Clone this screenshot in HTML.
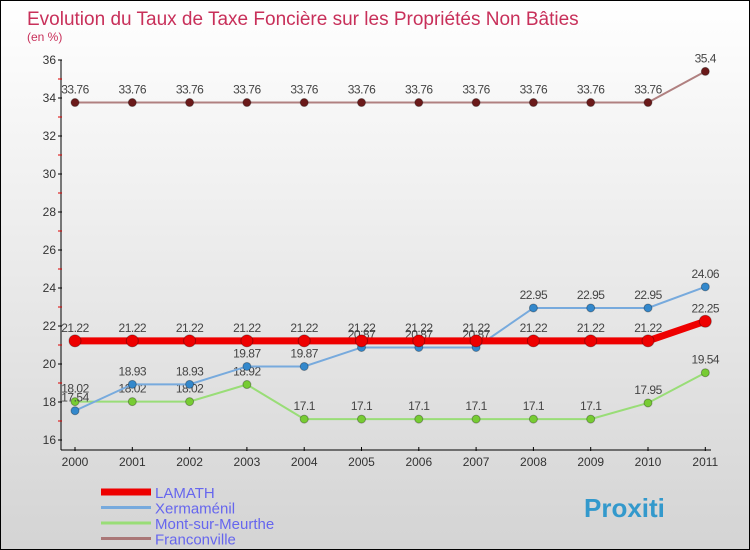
<!DOCTYPE html>
<html><head><meta charset="utf-8"><style>
body{margin:0}
#c{width:748px;height:548px;border:1px solid #000;background:linear-gradient(#fff,#d4d4d4);position:relative;font-family:"Liberation Sans",sans-serif;overflow:hidden}
</style></head><body>
<div id="c">
<svg id="s" width="748" height="548"></svg>
</div>
<script>
const years=["2000","2001","2002","2003","2004","2005","2006","2007","2008","2009","2010","2011"];
const lamath=[21.22,21.22,21.22,21.22,21.22,21.22,21.22,21.22,21.22,21.22,21.22,22.25];
const xerm=[17.54,18.93,18.93,19.87,19.87,20.87,20.87,20.87,22.95,22.95,22.95,24.06];
const mont=[18.02,18.02,18.02,18.92,17.1,17.1,17.1,17.1,17.1,17.1,17.95,19.54];
const franc=[33.76,33.76,33.76,33.76,33.76,33.76,33.76,33.76,33.76,33.76,33.76,35.4];
const yTicks=[16,18,20,22,24,26,28,30,32,34,36];
const names=["LAMATH","Xermaménil","Mont-sur-Meurthe","Franconville"];
const s=document.getElementById('s');const NS="http://www.w3.org/2000/svg";
function el(t,a,p){const e=document.createElementNS(NS,t);for(const k in a)e.setAttribute(k,a[k]);(p||s).appendChild(e);return e;}
function X(i){return 74+i*57.3;}
function Y(v){return 439-(v-16)*19;}
let t=el('text',{x:26,y:24,fill:'#c8305a','font-size':19});t.textContent="Evolution du Taux de Taxe Foncière sur les Propriétés Non Bâties";

t=el('text',{x:26,y:40,fill:'#c8305a','font-size':12});t.textContent="(en %)";

let ax=el('line',{x1:60,y1:Y(36),x2:60,y2:449,stroke:'#000'});

ax=el('line',{x1:60,y1:449,x2:710,y2:449,stroke:'#000'});

yTicks.forEach(v=>{el('line',{x1:57,x2:61,y1:Y(v),y2:Y(v),stroke:'#000'});
 if(v<36)el('line',{x1:57,x2:61,y1:Y(v+1),y2:Y(v+1),stroke:'#d00'});
 const tt=el('text',{x:55,y:Y(v)+4,'text-anchor':'end','font-size':12,fill:'#333'});tt.textContent=v;
 });
years.forEach((y,i)=>{el('line',{x1:X(i),x2:X(i),y1:446,y2:450,stroke:'#000'});
 const tt=el('text',{x:X(i),y:465,'text-anchor':'middle','font-size':12,fill:'#333'});tt.textContent=y;
 });
function series(d,col,w,r,dot,name){
 const pl=el('polyline',{points:d.map((v,i)=>X(i)+','+Y(v)).join(' '),fill:'none',stroke:col,'stroke-width':w});
 
 d.forEach((v,i)=>{const c=el('circle',{cx:X(i),cy:Y(v),r:r,fill:dot,stroke:'rgba(0,0,0,0.3)'});
  
  const tt=el('text',{x:X(i),y:Y(v)-9,'text-anchor':'middle','font-size':12,fill:'#444','letter-spacing':'-0.5'});tt.textContent=v;
  });
}
series(franc,'#b08080',2,4,'#6b1a1a','franconville');
series(mont,'#99dd77',2,4,'#77cc33','mont-sur-meurthe');
series(xerm,'#77aadd',2,4,'#3388cc','xermamenil');
series(lamath,'#ee0000',7,6,'#ee0000','lamath');
const lc=['#ee0000','#77aadd','#99dd77','#aa7777'],lw=[7,3,3,3];
names.forEach((n,i)=>{const y=491+i*15.5;
 const l=el('line',{x1:100,x2:150,y1:y,y2:y,stroke:lc[i],'stroke-width':lw[i]});
 
 const tt=el('text',{x:154,y:y+6,'font-size':15,fill:'#6666ee'});tt.textContent=n;
 });
const lg=el('text',{x:583,y:516,'font-size':26,'font-weight':'bold',fill:'#3399cc'});lg.textContent="Proxiti";

</script>
</body></html>
